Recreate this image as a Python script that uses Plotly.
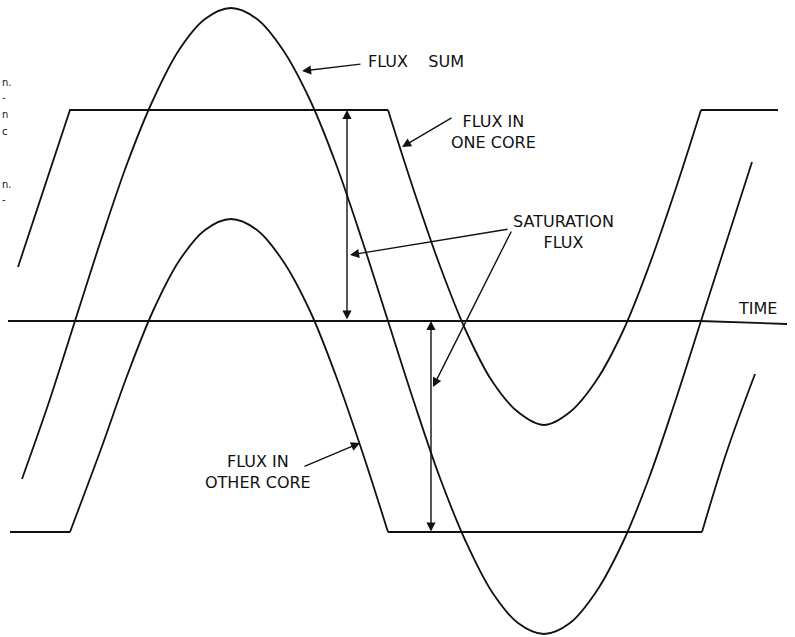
import plotly.graph_objects as go

# Coordinates: x = time (drawing units), y = flux (0 on the TIME axis, + upward)
sum_x = [22, 49, 75, 101, 127, 153, 179, 205, 231, 257, 283, 310, 336, 362, 388,
         414, 440, 466, 492, 518, 544, 570, 596, 623, 649, 675, 701, 727, 752]
sum_y = [-158, -81, 0, 81, 157, 221, 271, 302, 313, 302, 271, 221, 157, 81, 0,
         -81, -157, -221, -271, -302, -313, -302, -271, -221, -157, -81, 0, 81, 159]

one_x = [18, 70, 388, 414, 440, 466, 492, 518, 544, 570, 596, 623, 649, 675, 701, 778]
one_y = [54, 211, 211, 130, 55, -10, -60, -91, -104, -91, -60, -10, 55, 130, 211, 211]

other_x = [10, 70, 101, 127, 153, 179, 205, 231, 257, 283, 310, 336, 362, 388, 702, 727, 755]
other_y = [-211, -211, -128, -55, 10, 60, 91, 102, 91, 60, 10, -55, -130, -211, -211, -130, -53]

axis_x = [8, 700, 787]
axis_y = [0, 0, -3]

labels = ["FLUX    SUM", "FLUX IN<br>ONE CORE", "SATURATION<br>FLUX", "FLUX IN<br>OTHER CORE", "TIME"]
label_x = [416, 493, 563, 258, 757]
label_y = [260, 189, 89, -151, 13]

# arrows: (head x, head y, tail x, tail y)
arrow_hx = [302, 402, 350, 433, 360]
arrow_hy = [250, 174, 66, -66, -122]
arrow_tx = [362, 453, 509, 512, 303]
arrow_ty = [257, 204, 92, 91, -146]

# double-headed saturation-flux markers
dbl_x = [347, 431]
dbl_top = [211, 0]
dbl_bot = [0, -212]

edge_txt = ["n.", "-", "n", "c", "n.", "-"]
edge_y = [239, 224, 207, 190, 137, 122]

INK = "#111111"
LW = 1.8

fig = go.Figure()

def seg(xs, ys, shape):
    fig.add_trace(go.Scatter(x=xs, y=ys, mode="lines",
                             line=dict(color=INK, width=LW, shape=shape,
                                       smoothing=1.0 if shape == "spline" else None),
                             hoverinfo="skip", showlegend=False))

# time axis
seg(axis_x, axis_y, "linear")
# flux sum
seg(sum_x, sum_y, "spline")
# flux in one core
seg(one_x[0:3], one_y[0:3], "linear")
seg(one_x[2:15], one_y[2:15], "spline")
seg(one_x[14:16], one_y[14:16], "linear")
# flux in other core
seg(other_x[0:2], other_y[0:2], "linear")
seg(other_x[1:14], other_y[1:14], "spline")
seg(other_x[13:15], other_y[13:15], "linear")
seg(other_x[14:17], other_y[14:17], "spline")

ann = []
for t, x, y in zip(labels, label_x, label_y):
    ann.append(dict(x=x, y=y, text=t, showarrow=False, xanchor="center", yanchor="middle",
                    font=dict(family="DejaVu Sans", size=16, color=INK)))
for hx, hy, tx, ty in zip(arrow_hx, arrow_hy, arrow_tx, arrow_ty):
    ann.append(dict(x=hx, y=hy, ax=tx, ay=ty, axref="x", ayref="y", text="",
                    showarrow=True, arrowhead=2, arrowsize=1.3, arrowwidth=1.4,
                    arrowcolor=INK))
for x, t, b in zip(dbl_x, dbl_top, dbl_bot):
    ann.append(dict(x=x, y=t, ax=x, ay=b, axref="x", ayref="y", text="",
                    showarrow=True, arrowhead=2, startarrowhead=2, arrowside="end+start",
                    arrowsize=1.3, startarrowsize=1.3, arrowwidth=1.4, arrowcolor=INK))
for t, y in zip(edge_txt, edge_y):
    ann.append(dict(x=1, y=y, text=t, showarrow=False, xanchor="left", yanchor="middle",
                    borderpad=0, font=dict(family="DejaVu Sans", size=10, color=INK)))

fig.update_layout(
    width=795, height=637,
    margin=dict(l=0, r=0, t=0, b=0),
    paper_bgcolor="white", plot_bgcolor="white",
    xaxis=dict(range=[0, 795], visible=False, fixedrange=True),
    yaxis=dict(range=[-316, 321], visible=False, fixedrange=True),
    annotations=ann,
)

fig.write_html(
    "out.html",
    config={"displayModeBar": False, "staticPlot": True},
    post_script="document.body.style.margin='0';document.body.style.overflow='hidden';",
)
